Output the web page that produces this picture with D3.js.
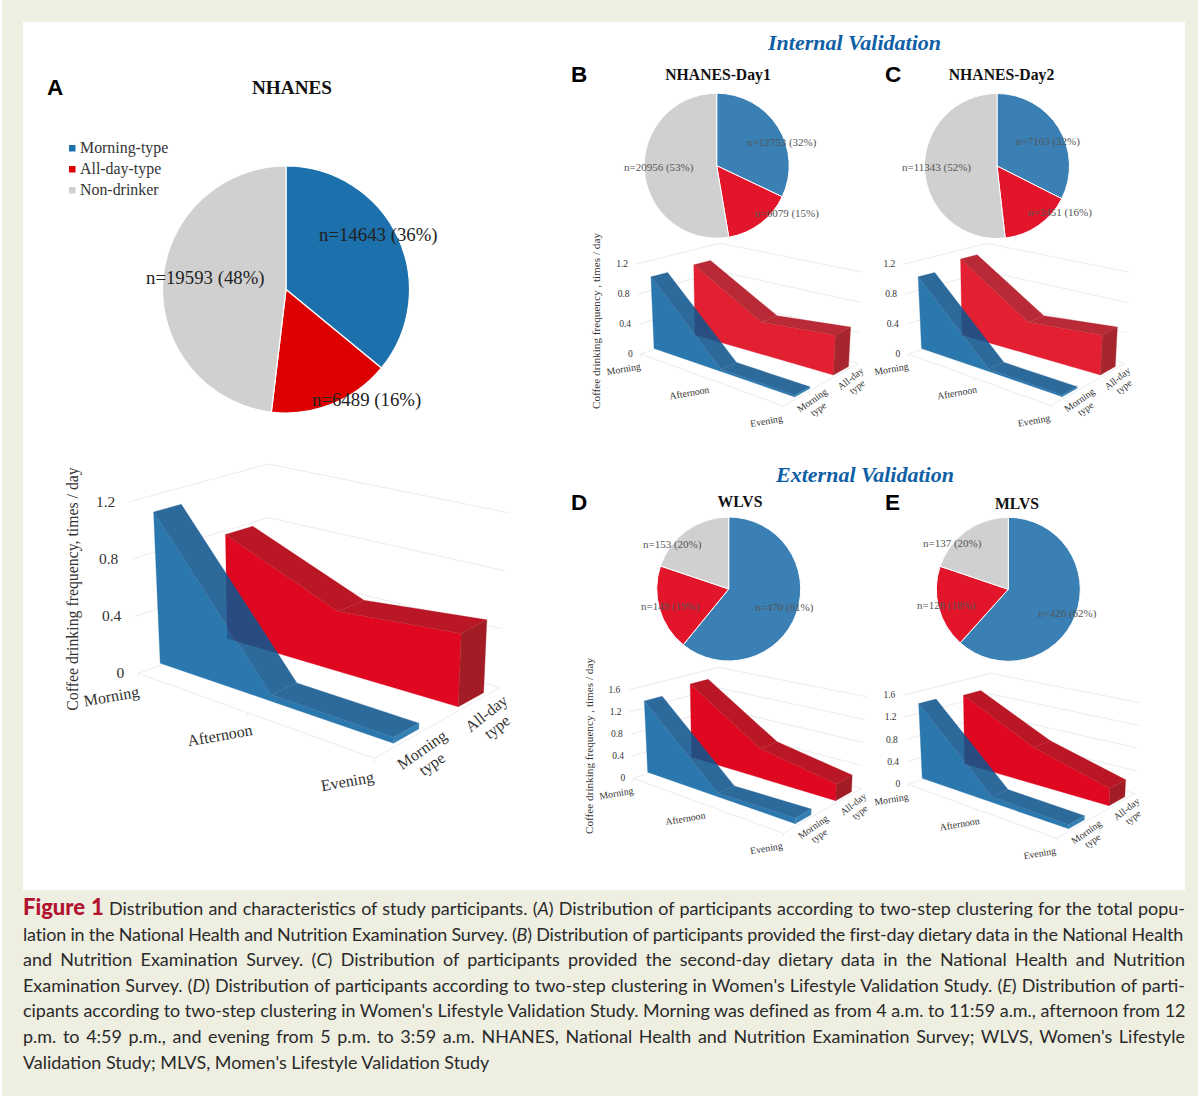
<!DOCTYPE html>
<html><head><meta charset="utf-8">
<script src="https://cdn.jsdelivr.net/npm/d3@7"></script>
<style>html,body{margin:0;background:#fff}svg{display:block}text{font-family:"Liberation Serif",serif}</style>
</head><body><svg id="c" width="1200" height="1100"></svg>
<script>
// ---------- data ----------
const timeLabels = ["Morning","Afternoon","Evening"];
const typeLabels = ["Morning-type","All-day-type"];
const legendLabels = ["Morning-type","All-day-type","Non-drinker"];

const pieA = [14643,6489,19593], piePctA = [36,16,48];
const pieB = [12753,6079,20956], piePctB = [32,15,53];
const pieC = [7103,3451,11343],  piePctC = [32,16,52];
const pieD = [470,149,153],      piePctD = [61,19,20];
const pieE = [426,128,137],      piePctE = [62,18,20];

const morningA = [1.07,0.045,0.04], alldayA = [0.76,0.42,0.50];
const morningB = [0.97,0.03,0.02],  alldayB = [0.98,0.43,0.52];
const morningC = [0.97,0.03,0.02],  alldayC = [1.06,0.43,0.52];
const morningD = [1.31,0.06,0.10],  alldayD = [1.40,0.53,0.29];
const morningE = [1.36,0.10,0.07],  alldayE = [1.30,0.66,0.30];

const ticks12 = [0,0.4,0.8,1.2];
const ticks16 = [0,0.4,0.8,1.2,1.6];

// ---------- layout ----------
const svg = d3.select("#c");
const tScale = d3.scaleOrdinal(timeLabels,[-0.012,0.46,0.98]);
const dScale = d3.scaleBand(typeLabels,[0,1]).paddingInner(0.61).paddingOuter(0.275).align(0.67);
const axisT = n => n==="Evening"?1:Math.max(0,tScale(n));

svg.append("rect").attr("x",2).attr("y",0).attr("width",1196).attr("height",1096).attr("fill","#eeeee1");
svg.append("rect").attr("x",23).attr("y",22).attr("width",1162).attr("height",868).attr("fill","#fff");

const lerp=(a,b,k)=>[a[0]+(b[0]-a[0])*k,a[1]+(b[1]-a[1])*k];

function frame(ox,oy,c,max){
  const z=p=>[ox+p[0]/3,oy+p[1]/3];
  const o={};for(const k in c)o[k]=z(c[k]);
  o.h=d3.scaleLinear([0,max],[0,1]);
  o.at=(t,d,v)=>{
    const f=lerp(lerp(o.LF,o.RF,t),lerp(o.LB,o.RB,t),d);
    const u=lerp(lerp(o.tLF,o.tRF,t),lerp(o.tLB,o.tRB,t),d);
    return lerp(f,u,o.h(v));
  };
  return o;
}
const poly=pts=>"M"+pts.map(p=>p[0].toFixed(2)+","+p[1].toFixed(2)).join("L")+"Z";

function ribbon(g,fr,type,vals,cols,op){
  const d0=dScale(type),d1=d0+dScale.bandwidth();
  const ts=timeLabels.map(tScale);
  const gg=g.append("g").attr("opacity",op);
  const add=(pts,c)=>gg.append("path").attr("d",poly(pts)).attr("fill",c).attr("stroke",c).attr("stroke-width",0.3);
  add([...ts.map(t=>fr.at(t,d0,0)),...ts.map((t,i)=>fr.at(t,d0,vals[i])).reverse()],cols.front);
  for(let i=0;i<2;i++)add([fr.at(ts[i],d0,vals[i]),fr.at(ts[i+1],d0,vals[i+1]),fr.at(ts[i+1],d1,vals[i+1]),fr.at(ts[i],d1,vals[i])],cols.top);
  const e=ts[2],v=vals[2];
  add([fr.at(e,d0,0),fr.at(e,d1,0),fr.at(e,d1,v),fr.at(e,d0,v)],cols.side);
}

function chart3d(opt){
  const fr=opt.fr,g=svg.append("g"),k=opt.k,grid="#ebecee";
  const line=(a,b)=>g.append("line").attr("x1",a[0]).attr("y1",a[1]).attr("x2",b[0]).attr("y2",b[1]).attr("stroke",grid).attr("stroke-width",1);
  opt.ticks.forEach(v=>{
    line(fr.at(0,0,v),fr.at(0,1,v));
    line(fr.at(0,1,v),fr.at(1,1,v));
    if(v===0){line(fr.at(0,0,0),fr.at(1,0,0));line(fr.at(1,0,0),fr.at(1,1,0));}
  });
  timeLabels.forEach(n=>{const p=fr.at(axisT(n),0,0);line(p,[p[0],p[1]+3*k]);});
  ribbon(g,fr,typeLabels[1],opt.red,opt.redCols,0.97);
  ribbon(g,fr,typeLabels[0],opt.blue,{front:"#0e66a5",top:"#10568e",side:"#1a6fa8"},0.88);
  opt.ticks.forEach(v=>{
    const p=fr.at(0,0,v);
    g.append("text").attr("x",p[0]-opt.tickGap).attr("y",p[1]+opt.tickFont*0.33).attr("text-anchor","end")
      .attr("font-size",opt.tickFont).attr("fill","#333").text(v);
  });
  timeLabels.forEach(n=>{
    const p=fr.at(axisT(n),0,0);
    g.append("text").attr("transform",`translate(${p[0]+opt.tOff[0]},${p[1]+opt.tOff[1]}) rotate(-10)`)
      .attr("text-anchor","middle").attr("dy","0.33em").attr("font-size",opt.catFont).attr("fill","#333").text(n);
  });
  typeLabels.forEach((n,i)=>{
    const p=fr.at(1,dScale(n)+dScale.bandwidth()/2,0);
    const first=n.split("-type")[0];
    const tx=g.append("text").attr("transform",`translate(${p[0]+opt.dOff[0]},${p[1]+opt.dOff[1]}) rotate(${i===0?-35:-38})`)
      .attr("text-anchor","middle").attr("font-size",opt.catFont).attr("fill","#333");
    tx.append("tspan").attr("x",0).attr("y",-0.2*opt.catFont).text(first);
    tx.append("tspan").attr("x",0).attr("y",0.88*opt.catFont).text("type");
  });
  if(opt.title){
    g.append("text").attr("transform",`translate(${opt.title.x},${opt.title.y}) rotate(-90)`).attr("text-anchor","middle")
      .attr("font-size",opt.title.font).attr("fill","#333").text(opt.title.text);
  }
}

const redBright={front:"#e0001a",top:"#b8101f",side:"#a01520"};
const redPink={front:"#e3182c",top:"#b82430",side:"#a52028"};

chart3d({fr:frame(40,450,{LF:[295,670],RF:[1003,925],LB:[685,525],RB:[1380,712],tLF:[268,155],tRF:[1015,385],tLB:[685,42],tRB:[1405,188]},1.2),
  ticks:ticks12,blue:morningA,red:alldayA,redCols:redBright,k:1.6,tickGap:14,tickFont:15.5,catFont:16,tOff:[-27,23],dOff:[16,19],
  title:{x:78,y:589,font:15.8,text:"Coffee drinking frequency, times / day"}});
chart3d({fr:frame(570,230,{LF:[212,372],RF:[640,528],LB:[450,293],RB:[865,400],tLF:[198,103],tRF:[650,243],tLB:[450,40],tRB:[880,127]},1.2),
  ticks:ticks12,blue:morningB,red:alldayB,redCols:redPink,k:1,tickGap:8,tickFont:9.5,catFont:9.8,tOff:[-17,15],dOff:[10,11],
  title:{x:600,y:321,font:11.2,text:"Coffee drinking frequency , times / day"}});
chart3d({fr:frame(870,230,{LF:[115,372],RF:[543,527],LB:[350,293],RB:[765,400],tLF:[100,103],tRF:[553,243],tLB:[350,40],tRB:[780,127]},1.2),
  ticks:ticks12,blue:morningC,red:alldayC,redCols:redPink,k:1,tickGap:8,tickFont:9.5,catFont:9.8,tOff:[-17,15],dOff:[10,11]});
chart3d({fr:frame(570,650,{LF:[190,385],RF:[640,550],LB:[445,297],RB:[875,415],tLF:[175,120],tRF:[650,268],tLB:[445,52],tRB:[888,140]},1.6),
  ticks:ticks16,blue:morningD,red:alldayD,redCols:redBright,k:1,tickGap:8,tickFont:9.5,catFont:9.8,tOff:[-17,15],dOff:[10,11],
  title:{x:593,y:746,font:11.2,text:"Coffee drinking frequency , times / day"}});
chart3d({fr:frame(870,650,{LF:[115,403],RF:[560,565],LB:[362,318],RB:[795,430],tLF:[100,135],tRF:[570,285],tLB:[362,70],tRB:[810,158]},1.6),
  ticks:ticks16,blue:morningE,red:alldayE,redCols:redBright,k:1,tickGap:8,tickFont:9.5,catFont:9.8,tOff:[-17,15],dOff:[10,11]});

// ---------- pies ----------
const pieGen=d3.pie().sort(null);
function drawPie(o){
  const g=svg.append("g").attr("transform",`translate(${o.cx},${o.cy})`);
  const arc=d3.arc().innerRadius(0).outerRadius(o.r);
  g.selectAll("path").data(pieGen(o.vals)).join("path").attr("d",arc)
    .attr("fill",(d,i)=>o.cols[i]).attr("stroke","#fff").attr("stroke-width",o.sw);
  o.vals.forEach((v,i)=>{
    svg.append("text").attr("x",o.lab[i][0]).attr("y",o.lab[i][1]).attr("font-size",o.font).attr("fill",o.ink)
      .text(`n=${v} (${o.pct[i]}%)`);
  });
}
const colsBold=["#1c70ab","#dc0000","#d0d0d0"], colsSoft=["#3a80b5","#e2152b","#d0d0d0"];
drawPie({cx:286,cy:289.5,r:123.5,vals:pieA,pct:piePctA,cols:colsBold,sw:1.2,font:18.8,ink:"#222",lab:[[319,241],[312,406],[146,284]]});
drawPie({cx:716.7,cy:165.7,r:72.5,vals:pieB,pct:piePctB,cols:colsSoft,sw:1,font:11,ink:"#555",lab:[[747,146],[755,217],[624,171]]});
drawPie({cx:997,cy:166,r:72.5,vals:pieC,pct:piePctC,cols:colsSoft,sw:1,font:11,ink:"#555",lab:[[1016,145],[1028,216],[902,171]]});
drawPie({cx:728.7,cy:589,r:72,vals:pieD,pct:piePctD,cols:colsSoft,sw:1,font:11,ink:"#555",lab:[[755,611],[641,610],[643,548]]});
drawPie({cx:1008.3,cy:589.3,r:72,vals:pieE,pct:piePctE,cols:colsSoft,sw:1,font:11,ink:"#555",lab:[[1038,617],[917,609],[923,547]]});

// legend
legendLabels.forEach((l,i)=>{
  svg.append("rect").attr("x",69).attr("y",145+i*21).attr("width",6.5).attr("height",6.5).attr("fill",colsBold[i]);
  svg.append("text").attr("x",80).attr("y",153+i*21).attr("font-size",15.9).attr("fill","#333").text(l);
});

// headings
const head=(x,y,s,size,anchor,extra={})=>{const t=svg.append("text").attr("x",x).attr("y",y).attr("font-size",size).attr("text-anchor",anchor).text(s);for(const k in extra)t.style(k,extra[k]);return t;};
const bold={"font-weight":"bold",fill:"#111"};
head(292,94,"NHANES",19.2,"middle",bold);
head(718,80,"NHANES-Day1",15.7,"middle",bold);
head(1001.5,80,"NHANES-Day2",15.7,"middle",bold);
head(740,507,"WLVS",15.7,"middle",bold);
head(1017,508.5,"MLVS",15.7,"middle",bold);
const panel={"font-family":'"Liberation Sans",sans-serif',"font-weight":"bold",fill:"#000"};
[["A",47,95],["B",571,82],["C",885,82],["D",571,510],["E",885,510]].forEach(a=>head(a[1],a[2],a[0],22.5,"start",panel));
const val={"font-weight":"bold","font-style":"italic",fill:"#0f5fa6"};
head(854.5,50,"Internal Validation",22,"middle",val);
head(865,482,"External Validation",22,"middle",val);

// ---------- caption ----------
const capLines=[
 [["Figure 1","f"],[" Distribution and characteristics of study participants. ("],["A","i"],[") Distribution of participants according to two-step clustering for the total popu-"]],
 [["lation in the National Health and Nutrition Examination Survey. ("],["B","i"],[") Distribution of participants provided the first-day dietary data in the National Health"]],
 [["and Nutrition Examination Survey. ("],["C","i"],[") Distribution of participants provided the second-day dietary data in the National Health and Nutrition"]],
 [["Examination Survey. ("],["D","i"],[") Distribution of participants according to two-step clustering in Women's Lifestyle Validation Study. ("],["E","i"],[") Distribution of parti-"]],
 [["cipants according to two-step clustering in Women's Lifestyle Validation Study. Morning was defined as from 4 a.m. to 11:59 a.m., afternoon from 12"]],
 [["p.m. to 4:59 p.m., and evening from 5 p.m. to 3:59 a.m. NHANES, National Health and Nutrition Examination Survey; WLVS, Women's Lifestyle"]],
 [["Validation Study; MLVS, Momen's Lifestyle Validation Study"]]
];
const capY=[915,941,966,992,1017,1043,1069];
capLines.forEach((segs,i)=>{
  const t=svg.append("text").attr("x",23).attr("y",capY[i]).attr("font-size",17.95).attr("fill","#2a2a2a")
    .style("font-family",'Lato,"Open Sans",sans-serif').attr("xml:space","preserve").style("white-space","pre");
  segs.forEach(s=>{
    const ts=t.append("tspan").text(s[0]);
    if(s[1]==="i")ts.style("font-style","italic");
    if(s[1]==="f")ts.style("font-weight","900").attr("fill","#b3122f").style("font-size","22px");
  });
  if(i<6){
    const str=segs.map(s=>s[0]).join("");
    const words=str.split(" ").length-1;
    const extra=1162-t.node().getComputedTextLength();
    if(extra>=0)t.style("word-spacing",(extra/words)+"px");
    else t.style("letter-spacing",(extra/str.length)+"px");
  }
});
</script></body></html>
